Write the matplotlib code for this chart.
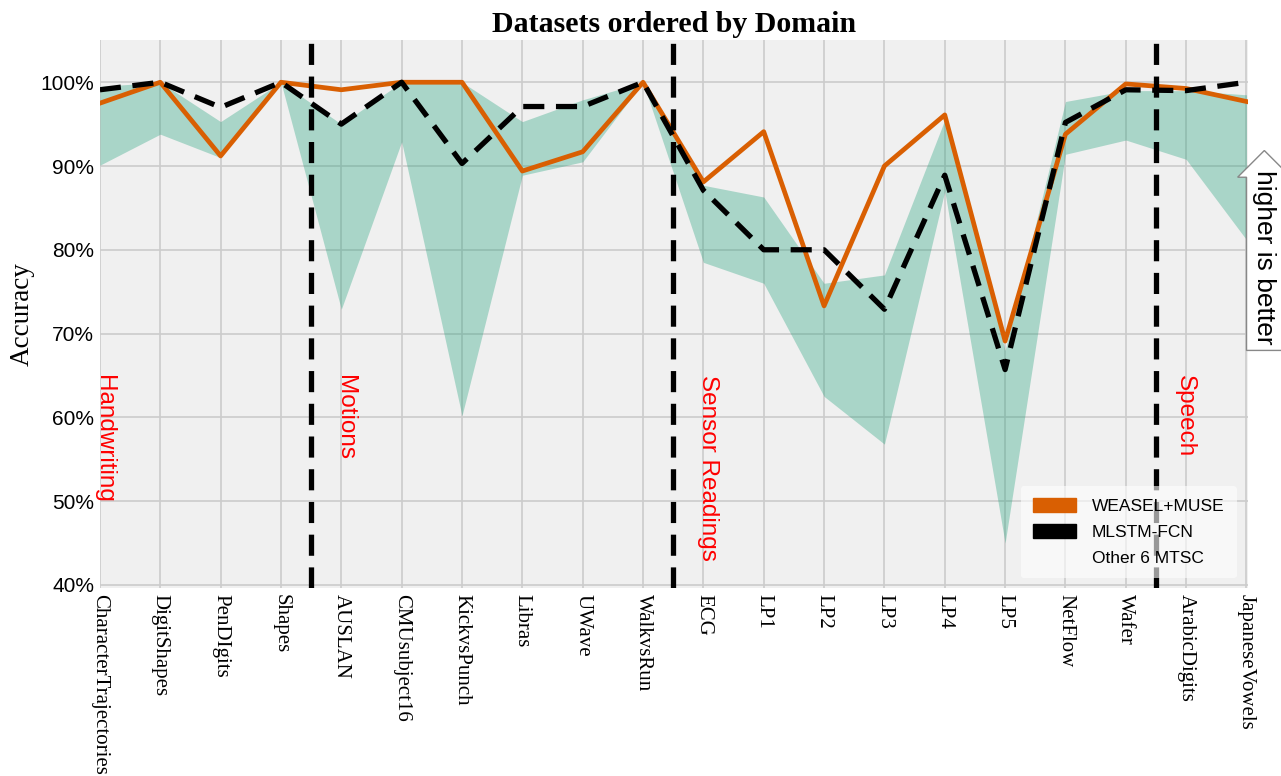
import matplotlib
matplotlib.use('Agg')
import matplotlib.pyplot as plt
from matplotlib.patches import Patch
from matplotlib.ticker import FuncFormatter

datasets = ['CharacterTrajectories', 'DigitShapes', 'PenDIgits', 'Shapes', 'AUSLAN',
            'CMUsubject16', 'KickvsPunch', 'Libras', 'UWave', 'WalkvsRun', 'ECG',
            'LP1', 'LP2', 'LP3', 'LP4', 'LP5', 'NetFlow', 'Wafer', 'ArabicDigits',
            'JapaneseVowels']

weasel_muse = [97.5, 100, 91.2, 100, 99.1, 100, 100, 89.4, 91.7, 100, 88.1,
               94.1, 73.3, 90.0, 96.1, 69.1, 93.8, 99.8, 99.25, 97.7]
mlstm_fcn = [99.1, 100, 97.0, 100, 95.0, 100, 90.3, 97.1, 97.1, 100, 87.1,
             80.0, 80.0, 72.9, 88.9, 65.7, 95.2, 99.1, 99.0, 100]
others_high = [99.5, 100, 95.3, 100, 95.0, 100, 100, 95.3, 97.9, 100, 87.7,
               86.3, 76.0, 77.0, 95.5, 68.0, 97.7, 99.0, 99.0, 98.5]
others_low = [90.1, 93.8, 91.0, 100, 72.9, 92.9, 60.2, 88.9, 90.5, 100, 78.5,
              76.0, 62.5, 56.8, 87.0, 45.0, 91.4, 93.1, 90.8, 81.2]

# domain boundaries (between datasets) and domain names
boundaries = [3.5, 9.5, 17.5]
domains = ['Handwriting', 'Motions', 'Sensor Readings', 'Speech']
domain_start = [-0.12, 3.88, 9.9, 17.8]

fig = plt.figure(figsize=(12.81, 7.76), dpi=100)
ax = fig.add_axes([0.078, 0.242, 0.896, 0.706])
ax.set_facecolor('#f0f0f0')
for s in ax.spines.values():
    s.set_visible(False)

x = list(range(len(datasets)))

ax.fill_between(x, others_low, others_high, color='#1b9e77', alpha=0.33, lw=0, zorder=2)
ax.plot(x, weasel_muse, color='#d95f02', lw=3.4, zorder=3)
ax.plot(x, mlstm_fcn, color='black', lw=3.8, ls=(0, (4, 2.2)), zorder=4)

for b in boundaries:
    ax.axvline(b, color='black', lw=3.8, ls=(0, (4, 2.2)), zorder=5)

for name, pos in zip(domains, domain_start):
    ax.text(pos, 65.0, name, rotation=-90, color='red', fontsize=17.5,
            family='Liberation Sans', ha='left', va='top', zorder=6)

ax.set_xlim(0, 19.02)
ax.set_ylim(39.6, 105)
ax.set_yticks([40, 50, 60, 70, 80, 90, 100])
ax.yaxis.set_major_formatter(FuncFormatter(lambda v, p: '%d%%' % v))
ax.set_xticks(x)
ax.set_xticklabels(datasets, rotation=-90, family='Liberation Serif', fontsize=15,
                   va='top', ha='center')
for lab in ax.get_yticklabels():
    lab.set_family('Liberation Sans')
    lab.set_fontsize(15)
ax.tick_params(length=0, pad=4)
ax.grid(True, color='#cbcbcb', lw=1.2, zorder=1)
ax.set_axisbelow(True)

ax.set_ylabel('Accuracy', family='Liberation Serif', fontsize=19.5, labelpad=4)
ax.set_title('Datasets ordered by Domain', family='Liberation Serif', fontsize=21.5,
             fontweight='bold', pad=6)

handles = [Patch(color='#d95f02', label='WEASEL+MUSE'),
           Patch(color='black', label='MLSTM-FCN'),
           Patch(color='none', label='Other 6 MTSC')]
leg = ax.legend(handles=handles, loc='lower right', prop={'family': 'Liberation Sans', 'size': 12.5},
                handlelength=2.5, handleheight=0.8, handletextpad=0.9, labelspacing=0.6,
                borderpad=0.7, fancybox=True, framealpha=0.6, facecolor='white',
                edgecolor='none', borderaxespad=0, bbox_to_anchor=(0.9905, 0.018))
leg.set_zorder(7)

ax.text(1.0145, 0.604, 'higher is better', transform=ax.transAxes, rotation=-90,
        family='Liberation Sans', fontsize=19, ha='center', va='center',
        bbox=dict(boxstyle='larrow,pad=0.22', fc='white', ec='#888888', lw=1),
        clip_on=False, zorder=8)

fig.savefig('out.png', dpi=100, facecolor='white')
